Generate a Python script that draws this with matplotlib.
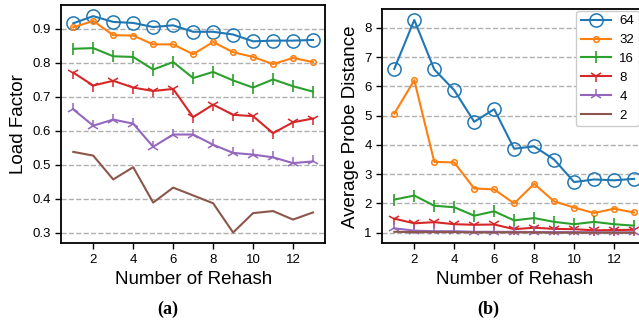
import matplotlib
matplotlib.use('Agg')
import matplotlib.pyplot as plt

# data
rehash = list(range(1, 14))
labels = ['64', '32', '16', '8', '4', '2']

load_64 = [0.916, 0.937, 0.920, 0.917, 0.905, 0.910, 0.891, 0.891, 0.883, 0.863, 0.865, 0.865, 0.867]
load_32 = [0.904, 0.923, 0.881, 0.880, 0.854, 0.854, 0.825, 0.861, 0.831, 0.817, 0.796, 0.814, 0.802]
load_16 = [0.841, 0.843, 0.819, 0.817, 0.780, 0.802, 0.755, 0.773, 0.748, 0.727, 0.751, 0.731, 0.715]
load_8 = [0.771, 0.733, 0.747, 0.727, 0.717, 0.723, 0.640, 0.677, 0.647, 0.643, 0.593, 0.625, 0.636]
load_4 = [0.663, 0.615, 0.633, 0.621, 0.553, 0.589, 0.589, 0.559, 0.535, 0.530, 0.522, 0.505, 0.510]
load_2 = [0.538, 0.527, 0.457, 0.493, 0.389, 0.433, 0.410, 0.387, 0.301, 0.358, 0.364, 0.339, 0.360]

probe_64 = [6.60, 8.27, 6.58, 5.87, 4.79, 5.22, 3.87, 3.95, 3.50, 2.73, 2.82, 2.79, 2.84]
probe_32 = [5.07, 6.21, 3.42, 3.40, 2.51, 2.48, 2.00, 2.67, 2.07, 1.86, 1.67, 1.82, 1.69]
probe_16 = [2.13, 2.27, 1.92, 1.87, 1.58, 1.73, 1.42, 1.50, 1.37, 1.29, 1.37, 1.29, 1.24]
probe_8 = [1.48, 1.32, 1.36, 1.29, 1.27, 1.28, 1.12, 1.17, 1.13, 1.12, 1.08, 1.09, 1.10]
probe_4 = [1.15, 1.07, 1.05, 1.05, 1.03, 1.03, 1.03, 1.02, 1.02, 1.02, 1.01, 1.01, 1.01]
probe_2 = [1.03, 1.02, 1.02, 1.02, 1.01, 1.01, 1.01, 1.01, 1.00, 1.00, 1.00, 1.00, 1.00]

plt.rcParams['font.family'] = ['Liberation Sans', 'DejaVu Sans']

styles = [
    dict(color='C0', marker='o', markersize=9.5, mfc='none', mew=1.1),
    dict(color='C1', marker='o', markersize=4, mfc='none', mew=1.1),
    dict(color='C2', marker='|', markersize=9, mew=1.2),
    dict(color='C3', marker='1', markersize=9, mew=1.1),
    dict(color='C4', marker='2', markersize=9, mew=1.1),
    dict(color='C5', marker=None),
]

fig = plt.figure(figsize=(6.39, 3.24), dpi=100)
ax1 = fig.add_axes([0.0959, 0.249, 0.4127, 0.7346])
ax2 = fig.add_axes([0.5983, 0.249, 0.4127, 0.7222])


def draw(ax, series, ylabel):
    for ys, lab, st in zip(series, labels, styles):
        ax.plot(rehash, ys, lw=1.5, label=lab, **st)
    ax.set_xlabel('Number of Rehash', fontsize=13.5)
    ax.set_ylabel(ylabel, fontsize=13.5)
    ax.set_xticks([2, 4, 6, 8, 10, 12])
    ax.tick_params(labelsize=9.5, length=4, width=1)
    ax.grid(axis='y', linestyle='--', color='#b0b0b0', lw=1)
    ax.set_axisbelow(True)
    for s in ax.spines.values():
        s.set_linewidth(1.3)


draw(ax1, [load_64, load_32, load_16, load_8, load_4, load_2], 'Load Factor')
draw(ax2, [probe_64, probe_32, probe_16, probe_8, probe_4, probe_2], 'Average Probe Distance')

# legend box placed from the reference pixel position
leg = ax2.legend(loc='upper left', bbox_to_anchor=(0.736, 0.995), fontsize=9.5,
                 handlelength=2.3, handletextpad=0.6, borderpad=0.35,
                 borderaxespad=0, framealpha=1, edgecolor='#cccccc')

fig.text(168 / 639, 1 - 309 / 324, '(a)', ha='center', va='center',
         family='Liberation Serif', weight='bold', fontsize=13)
fig.text(488 / 639, 1 - 309 / 324, '(b)', ha='center', va='center',
         family='Liberation Serif', weight='bold', fontsize=13)

fig.savefig('out.png', dpi=100)
